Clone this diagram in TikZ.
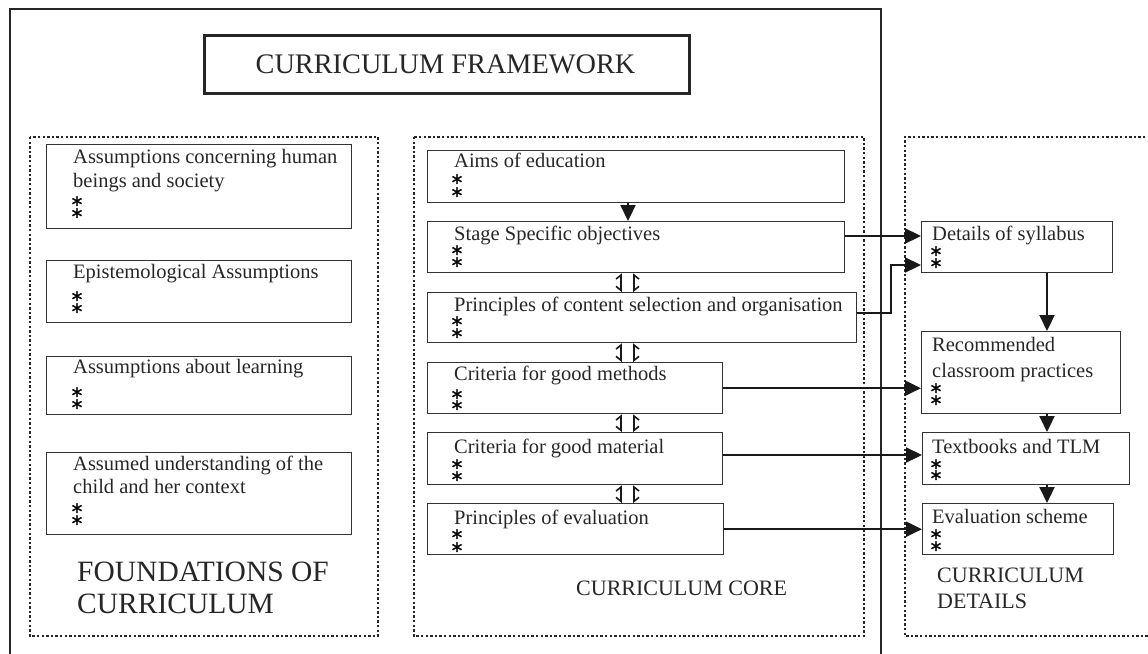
\documentclass[tikz,border=0pt]{standalone}
\usepackage{fontspec}
\setmainfont{Liberation Serif}
\newfontfamily\starfont[FakeBold=1.5]{DejaVu Sans}
\usetikzlibrary{arrows.meta}
\begin{document}
\begin{tikzpicture}[x=1pt,y=-1pt,
  frame/.style={line width=2.5pt,draw=black!85},
  dotbox/.style={line width=2.4pt,draw=black!85,dash pattern=on 2.4pt off 2.2pt},
  bx/.style={draw=black!80,line width=1.4pt,rectangle,inner sep=0pt,anchor=north west},
  txt/.style={font=\fontsize{20.5}{24}\selectfont,text=black!85,anchor=base west,inner sep=0pt},
  star/.style={font=\starfont\fontsize{21}{21}\selectfont,inner sep=0pt,anchor=base,yshift=-11.9pt},
  arr/.style={line width=2.2pt,draw=black!90,-{Triangle[length=16pt,width=15pt]}},
  dbl/.style={line width=1.6pt,draw=black!90},
  big/.style={text=black!85,inner sep=0pt,anchor=base west}]
\useasboundingbox (0,0) rectangle (1148,653);
% outer frame (open at bottom)
\draw[frame] (10,655) -- (10,9) -- (881,9) -- (881,655);
% title
\node[draw=black!85,line width=2.5pt,minimum width=485pt,minimum height=58pt,anchor=north west,inner sep=0pt] (title) at (203,34) {};
\node[big,anchor=base,font=\fontsize{28.3}{30}\selectfont] (titletxt) at (445.5,73) {CURRICULUM FRAMEWORK};
% dotted areas
\draw[dotbox] (30,137) rectangle (378,636);
\draw[dotbox] (414,137) rectangle (864,636);
\draw[dotbox] (1150,137) -- (905,137) -- (905,636) -- (1150,636);
% left boxes
\node[bx,minimum width=305pt,minimum height=84pt] (L1) at (46,144) {};
\node[bx,minimum width=305pt,minimum height=62pt] (L2) at (46,260) {};
\node[bx,minimum width=305pt,minimum height=58pt] (L3) at (46,356) {};
\node[bx,minimum width=305pt,minimum height=82pt] (L4) at (46,452) {};
\node[txt] (L1a) at (73,163) {Assumptions concerning human};
\node[txt] (L1b) at (73,187) {beings and society};
\node[star] (L1s1) at (77,200) {*};
\node[star] (L1s2) at (77,212) {*};
\node[txt] (L2a) at (73,278) {Epistemological Assumptions};
\node[star] (L2s1) at (77,295) {*};
\node[star] (L2s2) at (77,307) {*};
\node[txt] (L3a) at (73,373) {Assumptions about learning};
\node[star] (L3s1) at (77,391) {*};
\node[star] (L3s2) at (77,403) {*};
\node[txt] (L4a) at (73,470) {Assumed understanding of the};
\node[txt] (L4b) at (73,493) {child and her context};
\node[star] (L4s1) at (77,507) {*};
\node[star] (L4s2) at (77,519) {*};
\node[big,font=\fontsize{29.5}{32}\selectfont] (found1) at (77,581) {FOUNDATIONS OF};
\node[big,font=\fontsize{29.5}{32}\selectfont] (found2) at (77,613) {CURRICULUM};
% core boxes
\node[bx,minimum width=417pt,minimum height=52pt] (A) at (427,150) {};
\node[bx,minimum width=417pt,minimum height=51pt] (S) at (427,221) {};
\node[bx,minimum width=429pt,minimum height=50pt] (P) at (427,292) {};
\node[bx,minimum width=295pt,minimum height=51pt] (M) at (427,362) {};
\node[bx,minimum width=295pt,minimum height=52pt] (Mt) at (427,432) {};
\node[bx,minimum width=296pt,minimum height=51pt] (E) at (427,503) {};
\node[txt] (At) at (454,167) {Aims of education};
\node[star] (As1) at (457,178) {*};
\node[star] (As2) at (457,191) {*};
\node[txt] (St) at (454,240) {Stage Specific objectives};
\node[star] (Ss1) at (457,249) {*};
\node[star] (Ss2) at (457,261) {*};
\node[txt] (Pt) at (454,311) {Principles of content selection and organisation};
\node[star] (Ps1) at (457,320) {*};
\node[star] (Ps2) at (457,332) {*};
\node[txt] (Mtx) at (454,380) {Criteria for good methods};
\node[star] (Ms1) at (457,393) {*};
\node[star] (Ms2) at (457,404) {*};
\node[txt] (Mtt) at (454,453) {Criteria for good material};
\node[star] (Mts1) at (457,463) {*};
\node[star] (Mts2) at (457,475) {*};
\node[txt] (Et) at (454,524) {Principles of evaluation};
\node[star] (Es1) at (457,533) {*};
\node[star] (Es2) at (457,546) {*};
\node[big,font=\fontsize{22}{24}\selectfont] (core) at (576,595) {CURRICULUM CORE};
% right boxes
\node[bx,minimum width=191pt,minimum height=51pt] (D) at (921,221) {};
\node[bx,minimum width=199pt,minimum height=82pt] (R) at (921,331) {};
\node[bx,minimum width=207pt,minimum height=52pt] (T) at (922,432) {};
\node[bx,minimum width=191pt,minimum height=51pt] (ES) at (922,503) {};
\node[txt] (Dt) at (932,240) {Details of syllabus};
\node[star] (Ds1) at (936,250) {*};
\node[star] (Ds2) at (936,262) {*};
\node[txt] (Rt1) at (932,351) {Recommended};
\node[txt] (Rt2) at (932,377) {classroom practices};
\node[star] (Rs1) at (936,387) {*};
\node[star] (Rs2) at (936,399) {*};
\node[txt] (Tt) at (932,453) {Textbooks and TLM};
\node[star] (Ts1) at (936,463) {*};
\node[star] (Ts2) at (936,474) {*};
\node[txt] (ESt) at (932,523) {Evaluation scheme};
\node[star] (ESs1) at (936,533) {*};
\node[star] (ESs2) at (936,545) {*};
\node[big,font=\fontsize{22}{24}\selectfont] (det1) at (937,582) {CURRICULUM};
\node[big,font=\fontsize{22}{24}\selectfont] (det2) at (937,608) {DETAILS};
% helper coordinates
\coordinate (xa) at (628,0);
\coordinate (xl) at (621,0);
\coordinate (xrr) at (634,0);
\coordinate (xr) at (1047,0);
\coordinate (yS) at (0,236);
\coordinate (c1) at (891,313);
\coordinate (c2) at (891,265);
\coordinate (yMt) at (0,455);
% connectors
\draw[arr] (A.south -| xa) -- (S.north -| xa);
\foreach \u/\v in {S/P,P/M,M/Mt,Mt/E}{
  \draw[dbl,{Straight Barb[length=4pt,width=10pt,harpoon]}-{Straight Barb[length=4pt,width=10pt,harpoon,swap]}] (\u.south -| xl) -- (\v.north -| xl);
  \draw[dbl,{Straight Barb[length=4pt,width=10pt,harpoon,swap]}-{Straight Barb[length=4pt,width=10pt,harpoon]}] (\u.south -| xrr) -- (\v.north -| xrr);
}
\draw[arr] (S.east |- yS) -- (D.west |- yS);
\draw[arr] (P.east |- c1) -- (c1) -- (c2) -- (D.west |- c2);
\draw[arr] (D.south -| xr) -- (R.north -| xr);
\draw[arr] (M.east) -- (R.west |- M.east);
\draw[arr] (R.south -| xr) -- (T.north -| xr);
\draw[arr] (Mt.east |- yMt) -- (T.west |- yMt);
\draw[arr] (T.south -| xr) -- (ES.north -| xr);
\draw[arr] (E.east) -- (ES.west |- E.east);
\end{tikzpicture}
\end{document}
